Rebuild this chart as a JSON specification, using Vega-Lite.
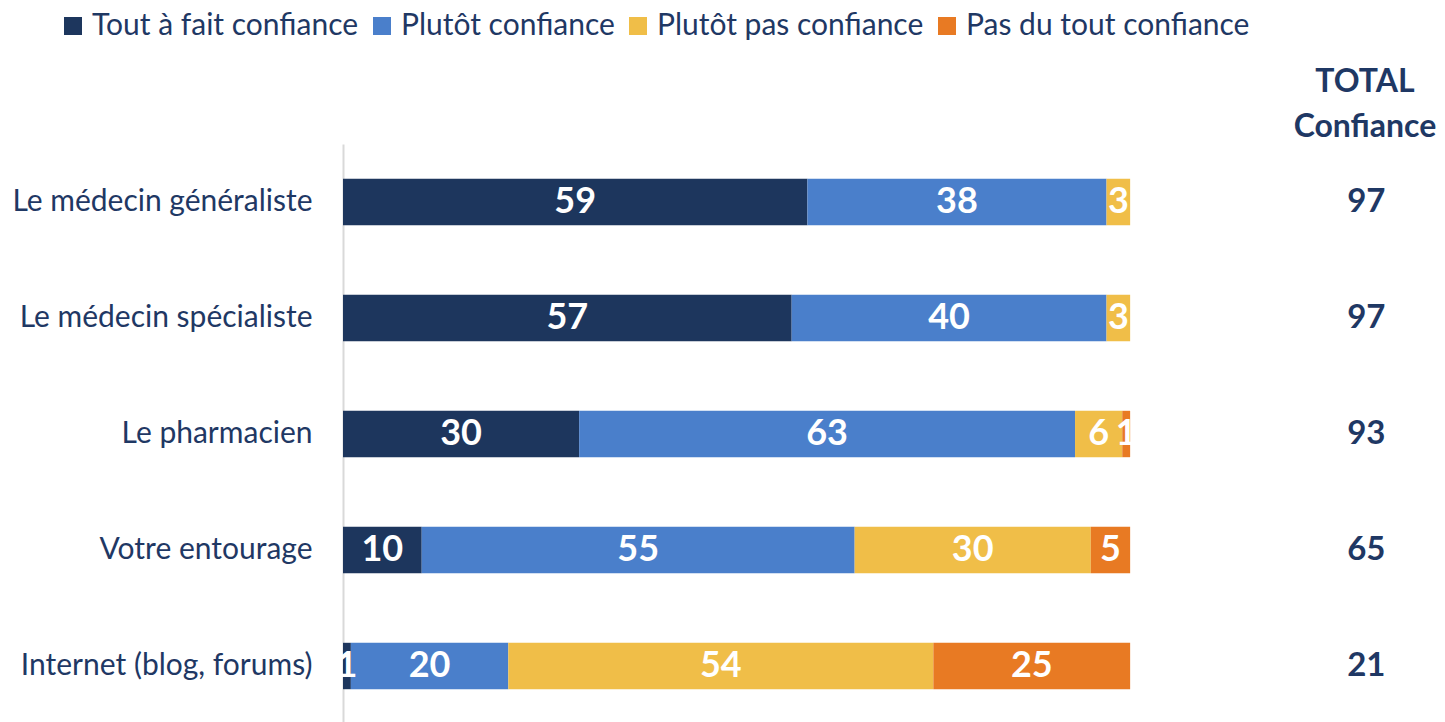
{
  "$schema": "https://vega.github.io/schema/vega-lite/v6.json",
  "autosize": "none",
  "padding": {"left": 343, "top": 144, "right": 0, "bottom": 0},
  "width": 1102,
  "height": 580,
  "background": "white",
  "config": {
    "view": {"stroke": null},
    "font": "Lato"
  },
  "title": {"text": ["TOTAL", "Confiance"], "font": "Lato", "fontSize": 32, "fontWeight": "bold", "color": "#1f3864", "anchor": "end", "align": "center", "dx": -80, "offset": 0, "dy": 133, "lineHeight": 45},
  "datasets": {
    "parts": [
      {"cat": "Le médecin généraliste", "serie": "Tout à fait confiance", "ordre": 1, "v": 59},
      {"cat": "Le médecin généraliste", "serie": "Plutôt confiance", "ordre": 2, "v": 38},
      {"cat": "Le médecin généraliste", "serie": "Plutôt pas confiance", "ordre": 3, "v": 3},
      {"cat": "Le médecin généraliste", "serie": "Pas du tout confiance", "ordre": 4, "v": 0},
      {"cat": "Le médecin spécialiste", "serie": "Tout à fait confiance", "ordre": 1, "v": 57},
      {"cat": "Le médecin spécialiste", "serie": "Plutôt confiance", "ordre": 2, "v": 40},
      {"cat": "Le médecin spécialiste", "serie": "Plutôt pas confiance", "ordre": 3, "v": 3},
      {"cat": "Le médecin spécialiste", "serie": "Pas du tout confiance", "ordre": 4, "v": 0},
      {"cat": "Le pharmacien", "serie": "Tout à fait confiance", "ordre": 1, "v": 30},
      {"cat": "Le pharmacien", "serie": "Plutôt confiance", "ordre": 2, "v": 63},
      {"cat": "Le pharmacien", "serie": "Plutôt pas confiance", "ordre": 3, "v": 6},
      {"cat": "Le pharmacien", "serie": "Pas du tout confiance", "ordre": 4, "v": 1},
      {"cat": "Votre entourage", "serie": "Tout à fait confiance", "ordre": 1, "v": 10},
      {"cat": "Votre entourage", "serie": "Plutôt confiance", "ordre": 2, "v": 55},
      {"cat": "Votre entourage", "serie": "Plutôt pas confiance", "ordre": 3, "v": 30},
      {"cat": "Votre entourage", "serie": "Pas du tout confiance", "ordre": 4, "v": 5},
      {"cat": "Internet (blog, forums)", "serie": "Tout à fait confiance", "ordre": 1, "v": 1},
      {"cat": "Internet (blog, forums)", "serie": "Plutôt confiance", "ordre": 2, "v": 20},
      {"cat": "Internet (blog, forums)", "serie": "Plutôt pas confiance", "ordre": 3, "v": 54},
      {"cat": "Internet (blog, forums)", "serie": "Pas du tout confiance", "ordre": 4, "v": 25}
    ],
    "totals": [
      {"cat": "Le médecin généraliste", "total": 97},
      {"cat": "Le médecin spécialiste", "total": 97},
      {"cat": "Le pharmacien", "total": 93},
      {"cat": "Votre entourage", "total": 65},
      {"cat": "Internet (blog, forums)", "total": 21}
    ]
  },
  "layer": [
    {
      "data": {"name": "parts"},
      "mark": {"type": "bar"},
      "encoding": {
        "y": {"field": "cat", "type": "nominal", "sort": null,
          "scale": {"paddingInner": 0.6, "paddingOuter": 0.3},
          "axis": {"title": null, "ticks": false, "labelFontSize": 30, "labelColor": "#1f3864", "labelPadding": 31, "domainColor": "#d9d9d9", "domainWidth": 2, "labelFont": "Lato", "labelLimit": 400}},
        "x": {"field": "v", "type": "quantitative", "stack": "zero", "scale": {"domain": [0, 140], "nice": false}, "axis": null},
        "color": {"field": "serie", "type": "nominal",
          "scale": {"domain": ["Tout à fait confiance", "Plutôt confiance", "Plutôt pas confiance", "Pas du tout confiance"], "range": ["#1d365d", "#4a7fcb", "#f0be48", "#e87a23"]},
          "legend": {"title": null, "orient": "none", "direction": "horizontal", "legendX": -285, "legendY": -133, "symbolType": "square", "symbolSize": 324, "symbolStrokeWidth": 0, "symbolOpacity": 1, "labelFontSize": 30, "labelColor": "#1f3864", "labelFont": "Lato", "columnPadding": 8, "labelLimit": 400, "labelOffset": 4}},
        "order": {"field": "ordre", "type": "quantitative"}
      }
    },
    {
      "data": {"name": "parts"},
      "transform": [
        {"stack": "v", "groupby": ["cat"], "sort": [{"field": "ordre"}], "as": ["x0", "x1"]},
        {"calculate": "(datum.x0 + datum.x1) / 2", "as": "mid"},
        {"filter": "datum.v > 0"}
      ],
      "mark": {"type": "text", "color": "white", "fontSize": 36, "fontWeight": "bold", "font": "Lato", "align": "center", "baseline": "middle"},
      "encoding": {
        "y": {"field": "cat", "type": "nominal", "sort": null},
        "x": {"field": "mid", "type": "quantitative"},
        "text": {"field": "v", "type": "quantitative"}
      }
    },
    {
      "data": {"name": "totals"},
      "mark": {"type": "text", "color": "#1f3864", "fontSize": 33, "fontWeight": "bold", "font": "Lato", "align": "center", "baseline": "middle"},
      "encoding": {
        "y": {"field": "cat", "type": "nominal", "sort": null},
        "x": {"datum": 130, "type": "quantitative"},
        "text": {"field": "total", "type": "quantitative"}
      }
    }
  ]
}
